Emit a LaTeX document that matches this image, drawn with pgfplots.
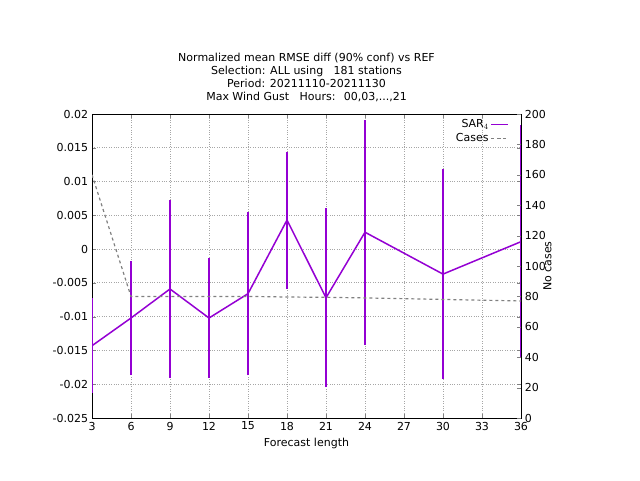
\documentclass[border=0pt]{standalone}
\usepackage{pgfplots}
\pgfplotsset{compat=1.18}
\usepackage{fontspec}
\setmainfont{DejaVu Sans}
\definecolor{sar}{RGB}{148,0,211}
\begin{document}
\fontsize{11}{13}\selectfont
\begin{tikzpicture}
\useasboundingbox (0,0) rectangle (640pt,480pt);
\begin{axis}[at={(92pt,62pt)},anchor=south west,scale only axis,width=429pt,height=304pt,
 xmin=3,xmax=36,ymin=-0.025,ymax=0.02,
 xtick={3,6,...,36},ytick={-0.025,-0.02,...,0.02},
 /pgf/number format/assume math mode=true,
 yticklabel style={/pgf/number format/fixed,/pgf/number format/precision=3},
 scaled y ticks=false,
 grid=major,major grid style={gray!70,dotted,line width=0.8pt},
 tick align=inside,axis line style={black},
 xlabel={Forecast length},
 title style={align=center,yshift=2pt},
 title={Normalized mean RMSE diff (90\% conf) vs REF\\Selection: ALL using \ \ 181 stations\\Period: 20211110-20211130\\Max Wind Gust \ \ Hours: \ 00,03,...,21},
 legend style={at={(0.98,0.995)},anchor=north east,draw=none,fill=none,font=\fontsize{11}{13}\selectfont},
 legend plot pos=right,legend cell align=right]
\addplot[sar,line width=1.5pt,mark=none,error bars/.cd,y dir=both,y explicit,error bar style={sar,line width=1.3pt},error mark=-,error mark options={mark size=3pt,sar,line width=1.3pt}] coordinates {
(3,-0.0143) +- (0,0.0066)
(6,-0.0102) +- (0,0.0080)
(9,-0.0059) +- (0,0.0127)
(12,-0.0102) +- (0,0.0084)
(15,-0.0066) +- (0,0.0116)
(18,0.0043) +- (0,0.0097)
(21,-0.0072) +- (0,0.0128)
(24,0.0025) +- (0,0.0162)
(30,-0.0037) +- (0,0.0151)
(36,0.0011) +- (0,0.0168)
};
\addlegendentry{SAR$_4$}
\addlegendimage{gray,line width=1.2pt,dashed}
\addlegendentry{Cases}
\end{axis}
\begin{axis}[at={(92pt,62pt)},anchor=south west,scale only axis,width=429pt,height=304pt,
 xmin=3,xmax=36,ymin=0,ymax=200,axis y line*=right,axis x line=none,
 ytick={0,20,...,200},tick align=inside,
 /pgf/number format/assume math mode=true,
 ylabel={No cases},ylabel style={yshift=10pt}]
\addplot[gray,line width=1.2pt,dashed] coordinates {(3,160)(6,80)(9,80)(12,80)(15,80)(18,79.6)(21,79.4)(24,79)(30,78)(36,77)};
\end{axis}
\end{tikzpicture}
\end{document}
